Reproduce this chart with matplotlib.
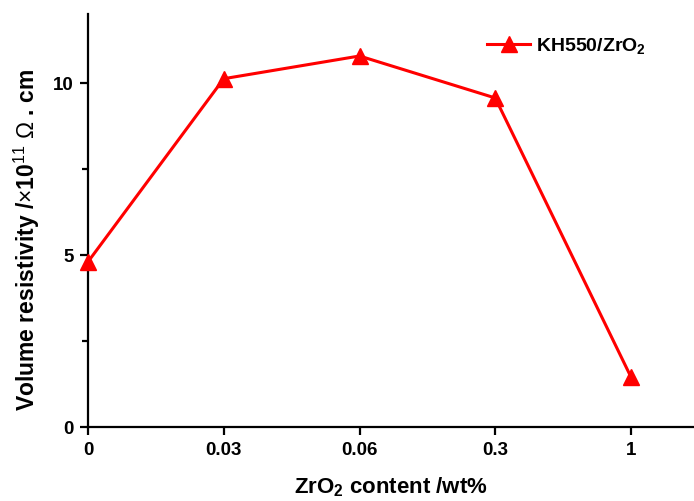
import matplotlib
matplotlib.use("Agg")
import matplotlib.pyplot as plt
from matplotlib.ticker import MultipleLocator

plt.rcParams['font.family'] = ['Liberation Sans', 'DejaVu Sans']
plt.rcParams['mathtext.fontset'] = 'custom'
plt.rcParams['mathtext.rm'] = 'Liberation Sans'
plt.rcParams['mathtext.bf'] = 'Liberation Sans:bold'
plt.rcParams['mathtext.it'] = 'Noto Sans CJK SC'

categories = ["0", "0.03", "0.06", "0.3", "1"]
resistivity = [4.80, 10.12, 10.78, 9.56, 1.45]
series_label = r"KH550/ZrO$_\mathbf{2}$"

fig = plt.figure(figsize=(6.94, 5.02), dpi=100)
ax = fig.add_axes([88/694, 74/502, 1 - 88/694, 413/502])

xpos = list(range(len(categories)))
ax.plot(xpos, resistivity, color='#ff0000', lw=2.2, marker='^', ms=11,
        label=series_label, clip_on=False, zorder=5)

ax.set_xlim(0, 4.464)
ax.set_ylim(0, 12)
ax.set_xticks(xpos)
ax.set_xticklabels(categories)
ax.yaxis.set_major_locator(MultipleLocator(5))
ax.yaxis.set_minor_locator(MultipleLocator(2.5))

for s in ['top', 'right']:
    ax.spines[s].set_visible(False)
for s in ['left', 'bottom']:
    ax.spines[s].set_linewidth(1.6)

ax.tick_params(axis='both', which='major', direction='out', length=6, width=1.6,
               labelsize=13.5, pad=4)
ax.tick_params(axis='y', which='minor', direction='out', length=4, width=1.6)
for lab in ax.get_xticklabels() + ax.get_yticklabels():
    lab.set_fontweight('bold')

ax.set_xlabel(r"ZrO$_\mathbf{2}$ content /wt%", fontsize=16, fontweight='bold', labelpad=12)
ax.set_ylabel(r"Volume resistivity /$\mathit{×}$10$^{11}$ $\mathit{Ω}$ . cm", fontsize=16.5,
              fontweight='bold', labelpad=8)
ax.yaxis.label.set_y(0.455)

leg = ax.legend(loc='upper left', bbox_to_anchor=(0.63, 0.99), frameon=False,
                prop={'weight': 'bold', 'size': 14}, handlelength=2.2,
                handletextpad=0.3)

fig.savefig("out.png", dpi=100)
